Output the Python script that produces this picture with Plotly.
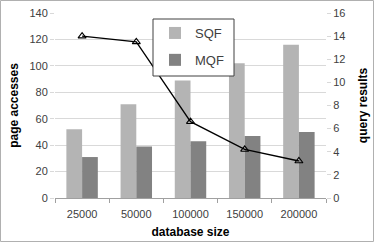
import plotly.graph_objects as go

categories = ["25000", "50000", "100000", "150000", "200000"]
sqf = [52, 71, 89, 102, 116]
mqf = [31, 39, 43, 47, 50]
query_results = [14.0, 13.5, 6.6, 4.2, 3.2]

W, H = 374, 242
L, R, T, B = 55, 48, 13, 44
pw, ph = W - L - R, H - T - B

fig = go.Figure()
fig.add_trace(go.Bar(x=categories, y=sqf, name="SQF", legendgroup="a",
                     marker=dict(color="#b4b4b4", line=dict(width=0))))
fig.add_trace(go.Bar(x=categories, y=mqf, name="MQF", legendgroup="b",
                     marker=dict(color="#828282", line=dict(width=0))))
fig.add_trace(go.Scatter(x=categories, y=query_results, yaxis="y2", mode="lines+markers",
                         line=dict(color="black", width=1.3),
                         marker=dict(symbol="triangle-up-open", size=7, color="black", line=dict(width=1.1)),
                         showlegend=False))

font = "Liberation Sans, Arial, sans-serif"
fig.update_layout(
    width=W, height=H,
    margin=dict(l=L, r=R, t=T, b=B, autoexpand=False),
    paper_bgcolor="white", plot_bgcolor="white",
    barmode="group", bargap=0.42, bargroupgap=0,
    font=dict(family=font, size=11, color="#404040"),
    legend=dict(x=(155 - L) / pw, y=1 - (18 - T) / ph, xanchor="left", yanchor="top",
                bgcolor="rgba(0,0,0,0)", borderwidth=0,
                font=dict(size=13, color="#404040"), tracegroupgap=7, itemwidth=30),
    xaxis=dict(showline=True, linecolor="#a0a0a0", ticks="outside", tickson="boundaries",
               ticklen=4, tickcolor="#a0a0a0", automargin=False, ticklabelstandoff=6,
               title=dict(text="<b>database size</b>", font=dict(size=12, color="black"), standoff=8)),
    yaxis=dict(range=[0, 140], dtick=20, showgrid=True, gridcolor="#d9d9d9", zeroline=False,
               showline=False, ticks="outside", ticklen=4, tickcolor="#d9d9d9", automargin=False,
               title=dict(text="<b>page accesses</b>", font=dict(size=12, color="black"), standoff=8)),
    yaxis2=dict(range=[0, 16], dtick=2, overlaying="y", side="right", showgrid=False, zeroline=False,
                showline=False, ticks="outside", ticklen=4, tickcolor="#d9d9d9", automargin=False,
                title=dict(text="<b>query results</b>", font=dict(size=12, color="black"), standoff=14)),
)
# legend frame
fig.add_shape(type="rect", xref="paper", yref="paper",
              x0=(153 - L) / pw, x1=(234 - L) / pw, y0=1 - (76 - T) / ph, y1=1 - (19 - T) / ph,
              line=dict(color="#404040", width=1), fillcolor="white", layer="above")
# outer frame
fig.add_shape(type="rect", xref="paper", yref="paper",
              x0=-L / pw + 0.5 / pw, x1=1 + (R - 0.5) / pw, y0=-B / ph + 0.5 / ph, y1=1 + (T - 0.5) / ph,
              line=dict(color="#b0b0b0", width=1))
fig.write_html("out.html", config={"displayModeBar": False, "staticPlot": True})

# remove default page margin so the figure sits at the window origin
with open("out.html", encoding="utf-8") as f:
    html = f.read()
html = html.replace("<head>", "<head><style>html,body{margin:0;padding:0;overflow:hidden}</style>", 1)
with open("out.html", "w", encoding="utf-8") as f:
    f.write(html)
